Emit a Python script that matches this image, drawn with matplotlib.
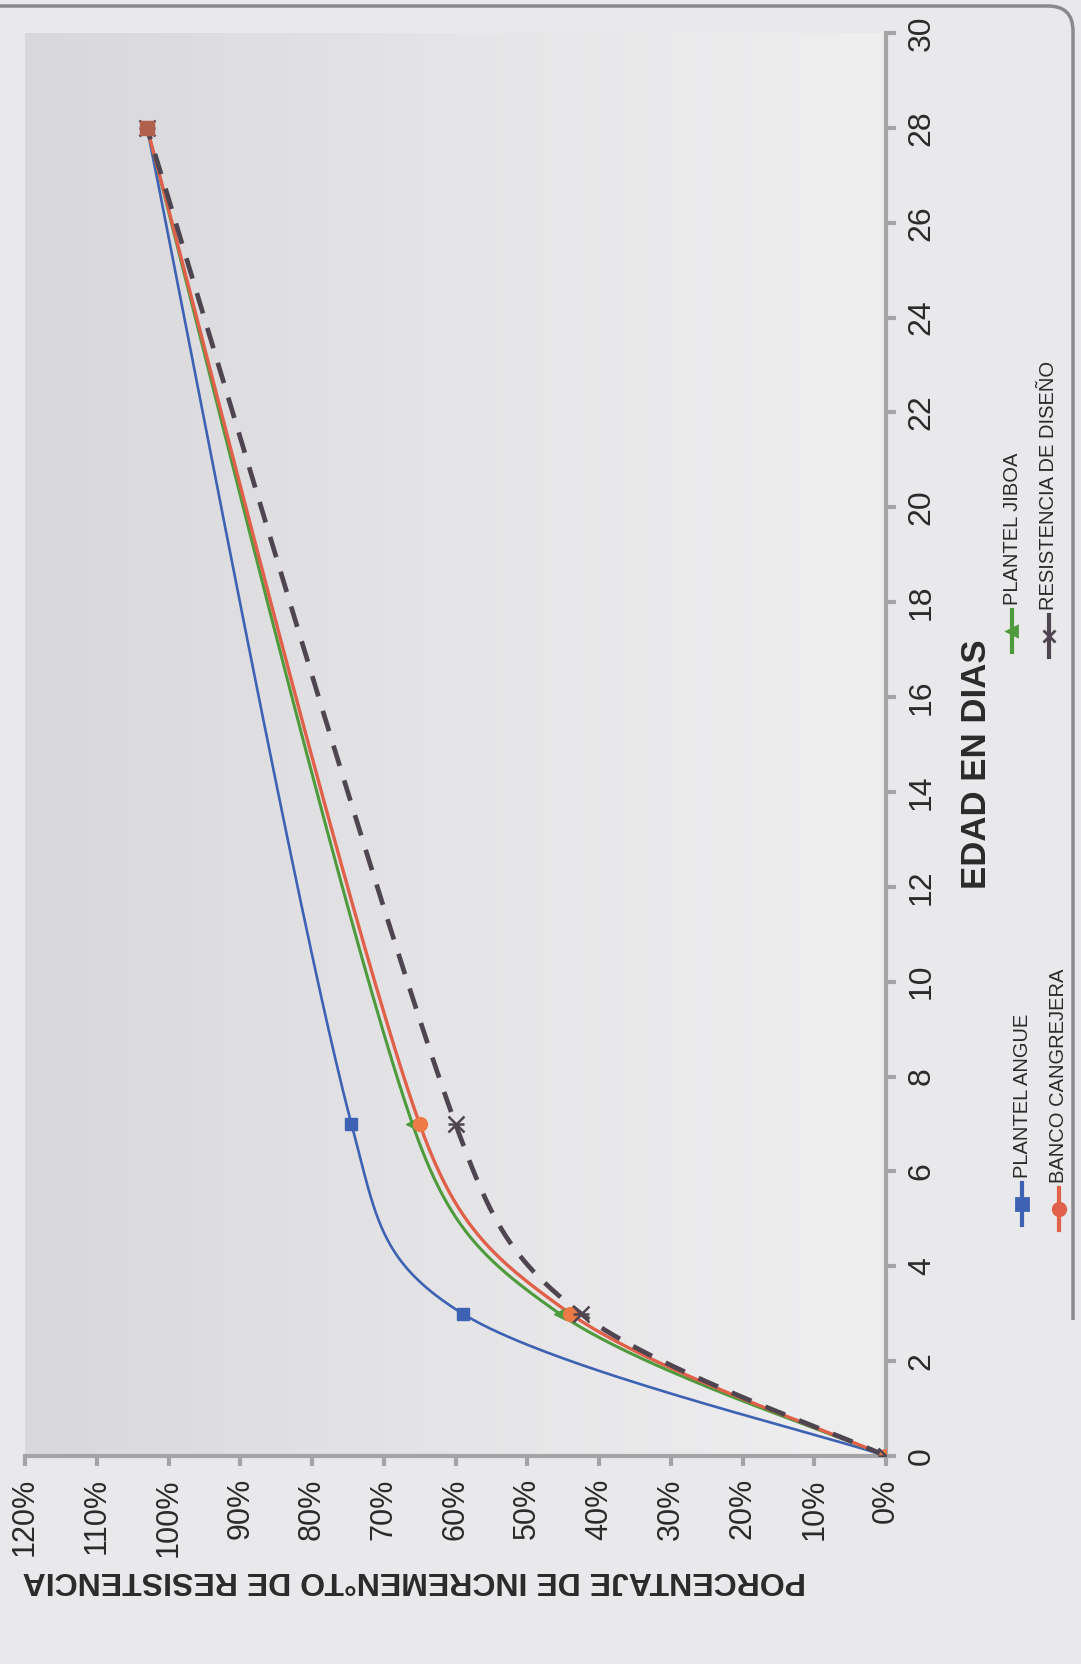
import numpy as np
import matplotlib
matplotlib.use("Agg")
import matplotlib.pyplot as plt
from matplotlib.lines import Line2D
from matplotlib.path import Path
from matplotlib.patches import PathPatch
from matplotlib.colors import LinearSegmentedColormap

plt.rcParams["font.family"] = ["Liberation Sans", "DejaVu Sans"]

# Edad de ensayo (dias) y porcentaje de resistencia alcanzado
days = [0, 3, 7, 28]
angue = [0, 59, 74.5, 103]
jiboa = [0, 45.5, 66, 103]
cangrejera = [0, 44, 65, 103]
diseno = [0, 42.5, 60, 103]

series_names = ["PLANTEL ANGUE", "PLANTEL JIBOA", "BANCO CANGREJERA",
                "RESISTENCIA DE DISEÑO"]

pct_ticks = list(range(0, 121, 10))
pct_labels = [f"{v}%" for v in pct_ticks]
day_ticks = list(range(0, 31, 2))

x_title = "PORCENTAJE DE INCREMEN°TO DE RESISTENCIA"
y_title = "EDAD EN DIAS"

W, H = 1081, 1664
PX_DAY, PX_PCT = 47.3, 7.17   # screen pixels per day / per percent


def smooth(xs, ys, n=80, clamp=0.45):
    """Spreadsheet-style smoothed line: cubic Bezier pieces whose control
    offsets are (next - previous) / 6, limited to a share of the segment."""
    P = np.column_stack([np.asarray(xs, float) * PX_DAY,
                         np.asarray(ys, float) * PX_PCT])
    m = len(P)

    def limit(vec, seg_len):
        ln = np.linalg.norm(vec)
        cap = clamp * seg_len
        return vec * (cap / ln) if ln > cap else vec

    out = [P[0]]
    t = np.linspace(0, 1, n)[1:, None]
    for i in range(m - 1):
        p0 = P[i - 1] if i > 0 else P[i]
        p1, p2 = P[i], P[i + 1]
        p3 = P[i + 2] if i + 2 < m else P[i + 1]
        seg_len = np.linalg.norm(p2 - p1)
        c1 = p1 + limit((p2 - p0) / 6, seg_len)
        c2 = p2 - limit((p3 - p1) / 6, seg_len)
        seg = ((1 - t) ** 3 * p1 + 3 * (1 - t) ** 2 * t * c1
               + 3 * (1 - t) * t ** 2 * c2 + t ** 3 * p2)
        out.extend(seg)
    out = np.array(out)
    return out[:, 0] / PX_DAY, out[:, 1] / PX_PCT


fig = plt.figure(figsize=(W / 100, H / 100), dpi=100)
fig.patch.set_facecolor("#e9e9eb")

# plot area (page is turned: percentage runs right-to-left, days bottom-to-top)
L, R, T, B = 25, 886, 33, 1456
ax = fig.add_axes([L / W, (H - B) / H, (R - L) / W, (B - T) / H])
ax.set_xlim(120, 0)
ax.set_ylim(0, 30)

grad = np.linspace(0, 1, 256)[None, :]
bg = LinearSegmentedColormap.from_list("bg", ["#d8d8db", "#e5e5e7", "#efeff0"])
ax.imshow(grad, extent=(120, 0, 0, 30), aspect="auto", cmap=bg, zorder=0)

c_blue = "#3d62b3"
c_green = "#4e9a3c"
c_red = "#e0604a"
c_dash = "#4f4550"

sd, sp = smooth(days, angue)
ax.plot(sp, sd, color=c_blue, lw=1.9, zorder=3)
ax.plot(angue, days, ls="none", marker="s", ms=9, color=c_blue, zorder=4)

sd, sp = smooth(days, jiboa)
ax.plot(sp, sd, color=c_green, lw=2.2, zorder=3)
ax.plot(jiboa, days, ls="none", marker="<", ms=8, color=c_green, zorder=4)

sd, sp = smooth(days, cangrejera)
ax.plot(sp, sd, color=c_red, lw=2.4, zorder=3)
ax.plot(cangrejera, days, ls="none", marker="o", ms=10, color="#ee7a45",
        zorder=4)

sd, sp = smooth(days, diseno)
ax.plot(sp, sd, color=c_dash, lw=3.4, dashes=(4.5, 3.2), zorder=3)
ax.plot(diseno, days, ls="none", marker="x", ms=11, mew=1.8, color=c_dash,
        zorder=4)
ax.plot(diseno, days, ls="none", marker="_", ms=12, mew=1.8, color=c_dash,
        zorder=4)

# endpoint marker where all series meet
ax.plot([angue[-1]], [days[-1]], ls="none", marker="s", ms=10,
        color="#b0604c", zorder=5)

for side in ["top", "left"]:
    ax.spines[side].set_visible(False)
for side in ["bottom", "right"]:
    ax.spines[side].set_color("#a4a4a6")
    ax.spines[side].set_linewidth(3)

ax.set_xticks(pct_ticks)
ax.set_xticklabels(pct_labels, rotation=90, fontsize=22, color="#2a2a2a")
ax.yaxis.tick_right()
ax.set_yticks(day_ticks)
ax.set_yticklabels([str(d) for d in day_ticks], rotation=90, fontsize=23,
                   color="#2a2a2a", va="center")
ax.tick_params(axis="x", length=7, width=3, color="#a4a4a6", pad=9)
ax.tick_params(axis="y", length=7, width=3, color="#a4a4a6", pad=8)

# overlay in pixel coordinates for titles, legend and frame
ov = fig.add_axes([0, 0, 1, 1], facecolor="none")
ov.set_xlim(0, W)
ov.set_ylim(H, 0)
ov.axis("off")

ov.text(414, 1580, x_title, rotation=180, ha="center", va="center",
        fontsize=23, fontweight="bold", color="#2a2a2a")
ov.text(976, 764, y_title, rotation=90, ha="center", va="center",
        fontsize=25, fontweight="bold", color="#2a2a2a")

legend_items = [
    (series_names[0], 1022, 1204, c_blue, "s", 8),
    (series_names[2], 1059, 1209, c_red, "o", 9),
    (series_names[1], 1012, 631, c_green, "<", 7),
    (series_names[3], 1049, 636, c_dash, "x", 9),
]
for name, x, yc, col, mk, ms in legend_items:
    ov.add_line(Line2D([x, x], [yc + 21, yc - 21], color=col, lw=3))
    ov.add_line(Line2D([x], [yc], marker=mk, ms=ms, mew=2, color=col))
    ov.text(x, yc - 26, name, rotation=90, rotation_mode="anchor",
            ha="left", va="center", fontsize=14.5, color="#2a2a2a")

# chart frame with rounded corner
verts = [(-5, 6), (1048, 6), (1073, 6), (1073, 31), (1073, 1320)]
codes = [Path.MOVETO, Path.LINETO, Path.CURVE3, Path.CURVE3, Path.LINETO]
ov.add_patch(PathPatch(Path(verts, codes), fill=False, ec="#8a8a8c", lw=2.5))

fig.savefig("out.png", dpi=100, facecolor=fig.get_facecolor())
